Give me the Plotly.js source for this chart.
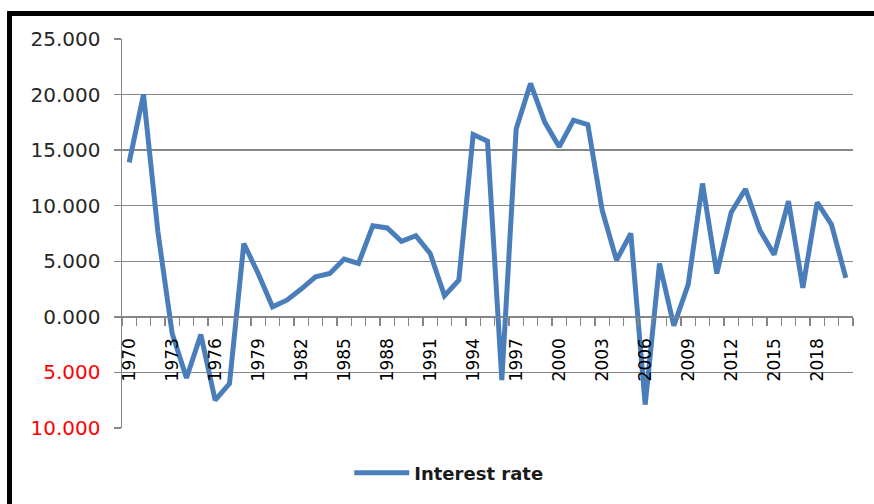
<!DOCTYPE html>
<html>
<head>
<meta charset="utf-8">
<script src="https://cdn.plot.ly/plotly-3.0.1.min.js"></script>
<style>
  html, body { margin: 0; padding: 0; background: #ffffff; }
  #wrap { position: relative; width: 874px; height: 504px; overflow: hidden; }
  #chart { position: absolute; left: 0; top: 0; width: 874px; height: 504px; }
  #frame { position: absolute; left: 7px; top: 11px; right: -10px; bottom: -10px;
           border-left: 5px solid #000; border-top: 5px solid #000; pointer-events: none; }
</style>
</head>
<body>
<div id="wrap">
  <div id="chart"></div>
  <div id="frame"></div>
</div>
<script>
// ---- data ----
const years = [
  1970, 1971, 1972, 1973, 1974, 1975, 1976, 1977, 1978, 1979,
  1980, 1981, 1982, 1983, 1984, 1985, 1986, 1987, 1988, 1989,
  1990, 1991, 1992, 1993, 1994, 1995, 1996, 1997, 1998, 1999,
  2000, 2001, 2002, 2003, 2004, 2005, 2006, 2007, 2008, 2009,
  2010, 2011, 2012, 2013, 2014, 2015, 2016, 2017, 2018, 2019, 2020
];
const interestRate = [
  13.9, 20.0, 7.7, -1.5, -5.5, -1.6, -7.5, -6.0, 6.6, 3.9,
  0.9, 1.5, 2.5, 3.6, 3.9, 5.2, 4.8, 8.2, 8.0, 6.8,
  7.3, 5.7, 1.9, 3.3, 16.4, 15.8, -5.7, 16.9, 21.0, 17.5,
  15.3, 17.7, 17.3, 9.6, 5.1, 7.5, -7.9, 4.8, -0.8, 2.9,
  12.0, 3.9, 9.4, 11.5, 7.8, 5.6, 10.4, 2.6, 10.3, 8.3, 3.5
];
const seriesName = "Interest rate";
const xTickYears = [1970, 1973, 1976, 1979, 1982, 1985, 1988, 1991, 1994, 1997, 2000, 2003, 2006, 2009, 2012, 2015, 2018];
const xTickLabels = ["1970", "1973", "1976", "1979", "1982", "1985", "1988", "1991", "1994", "1997", "2000", "2003", "2006", "2009", "2012", "2015", "2018"];
const yTickVals = [25, 20, 15, 10, 5, 0, -5, -10];
const yTickLabels = ["25.000", "20.000", "15.000", "10.000", "5.000", "0.000", "5.000", "10.000"];

// ---- chart ----
const yMin = -10, yMax = 25;
const yTickText = yTickLabels.map((t, i) =>
  yTickVals[i] < 0 ? '<span style="color:#ff0000">' + t + '</span>' : t);

const trace = {
  x: years,
  y: interestRate,
  type: 'scatter',
  mode: 'lines',
  name: '<b>' + seriesName + '</b>',
  line: { color: '#4a7ebb', width: 5 }
};

const layout = {
  width: 874,
  height: 504,
  margin: { l: 122, r: 21, t: 39, b: 76 },
  paper_bgcolor: '#ffffff',
  plot_bgcolor: '#ffffff',
  showlegend: true,
  legend: {
    orientation: 'h',
    x: 0.447, xanchor: 'center',
    y: -0.116, yanchor: 'middle',
    itemwidth: 55,
    font: { family: 'DejaVu Sans', size: 18, color: '#1a1a1a' }
  },
  xaxis: {
    range: [years[0] - 0.5, years[years.length - 1] + 0.5],
    tickmode: 'array',
    tickvals: xTickYears,
    ticktext: xTickLabels,
    tickangle: -90,
    ticks: '',
    showgrid: false,
    zeroline: false,
    showline: true,
    linecolor: '#868686',
    linewidth: 1.5,
    anchor: 'free',
    position: (0 - yMin) / (yMax - yMin),
    tickfont: { family: 'DejaVu Sans', size: 17, color: '#000000' },
    ticklabelstandoff: 13,
    minor: {
      tickmode: 'linear',
      tick0: years[0] - 0.5,
      dtick: 1,
      ticks: 'outside',
      ticklen: 8,
      tickwidth: 1.5,
      tickcolor: '#868686',
      showgrid: false
    }
  },
  yaxis: {
    range: [yMin, yMax],
    tickmode: 'array',
    tickvals: yTickVals,
    ticktext: yTickText,
    ticks: 'outside',
    ticklen: 7,
    tickwidth: 1.5,
    tickcolor: '#868686',
    showgrid: true,
    gridcolor: '#878787',
    gridwidth: 1.5,
    zeroline: false,
    showline: true,
    linecolor: '#868686',
    linewidth: 1.5,
    ticklabelstandoff: 9,
    tickfont: { family: 'DejaVu Sans', size: 20, color: '#262626' }
  }
};

Plotly.newPlot('chart', [trace], layout, { staticPlot: true, displayModeBar: false });
</script>
</body>
</html>
